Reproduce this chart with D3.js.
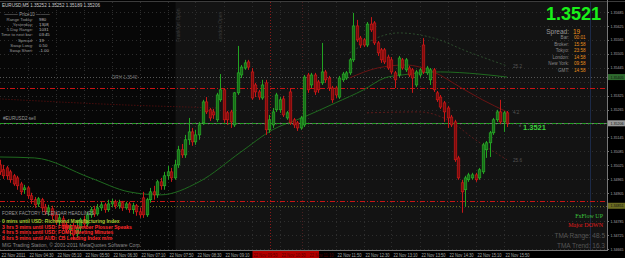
<!DOCTYPE html>
<html>
<head>
<meta charset="utf-8">
<script src="https://cdn.jsdelivr.net/npm/d3@7"></script>
<style>
  html, body { margin: 0; padding: 0; background: #000; }
  svg { display: block; font-family: "Liberation Sans", Arial, sans-serif; }
</style>
</head>
<body>
<svg id="chart" width="625" height="258"></svg>
<script>
// EURUSD M5, 22 Nov 2011, 03:50 .. 15:55 (146 bars)
const opens = [
  1.35027,1.35006,1.35014,1.34997,1.34980,1.34971,1.34945,1.34920,1.34928,1.34894,
  1.34877,1.34859,1.34877,1.34846,1.34825,1.34838,1.34812,1.34782,1.34795,1.34769,
  1.34748,1.34765,1.34730,1.34756,1.34791,1.34773,1.34812,1.34834,1.34816,1.34842,
  1.34855,1.34834,1.34859,1.34868,1.34851,1.34864,1.34842,1.34859,1.34834,1.34851,
  1.34825,1.34885,1.34812,1.34877,1.34911,1.34898,1.34954,1.34937,1.34980,1.34997,
  1.34971,1.35027,1.35092,1.35070,1.35135,1.35169,1.35126,1.35156,1.35208,1.35298,
  1.35264,1.35255,1.35221,1.35307,1.35350,1.35251,1.35255,1.35199,1.35337,1.35414,
  1.35444,1.35470,1.35427,1.35371,1.35341,1.35315,1.35380,1.35178,1.35199,1.35264,
  1.35264,1.35311,1.35229,1.35341,1.35221,1.35208,1.35186,1.35199,1.35414,1.35371,
  1.35414,1.35384,1.35380,1.35427,1.35401,1.35358,1.35358,1.35319,1.35393,1.35401,
  1.35423,1.35479,1.35625,1.35573,1.35565,1.35543,1.35633,1.35638,1.35552,1.35522,
  1.35522,1.35491,1.35479,1.35423,1.35414,1.35479,1.35436,1.35444,1.35436,1.35371,
  1.35414,1.35543,1.35423,1.35393,1.35436,1.35337,1.35319,1.35294,1.35272,1.35233,
  1.35212,1.35057,1.34950,1.34920,1.34963,1.34971,1.34984,1.34971,1.34997,1.35092,
  1.35122,1.35165,1.35221,1.35255,1.35212,1.35251
];
const highs = [
  1.35049,1.35027,1.35023,1.35006,1.34988,1.34980,1.34954,1.34941,1.34937,1.34907,
  1.34889,1.34889,1.34885,1.34859,1.34855,1.34851,1.34825,1.34816,1.34808,1.34782,
  1.34773,1.34778,1.34791,1.34799,1.34808,1.34825,1.34846,1.34851,1.34859,1.34868,
  1.34864,1.34877,1.34881,1.34877,1.34877,1.34872,1.34868,1.34868,1.34864,1.34859,
  1.34842,1.34911,1.34885,1.34928,1.34937,1.34963,1.34971,1.34997,1.35023,1.35014,
  1.35049,1.35109,1.35117,1.35156,1.35229,1.35186,1.35178,1.35212,1.35307,1.35319,
  1.35272,1.35268,1.35337,1.35418,1.35358,1.35259,1.35264,1.35341,1.35539,1.35457,
  1.35479,1.35479,1.35444,1.35380,1.35350,1.35393,1.35393,1.35242,1.35272,1.35337,
  1.35319,1.35324,1.35259,1.35358,1.35229,1.35216,1.35238,1.35414,1.35423,1.35423,
  1.35423,1.35393,1.35552,1.35436,1.35410,1.35367,1.35367,1.35410,1.35427,1.35431,
  1.35487,1.35681,1.35651,1.35582,1.35573,1.35642,1.35663,1.35646,1.35560,1.35530,
  1.35530,1.35500,1.35491,1.35431,1.35496,1.35487,1.35487,1.35453,1.35444,1.35436,
  1.35444,1.35573,1.35453,1.35444,1.35444,1.35345,1.35328,1.35302,1.35281,1.35242,
  1.35221,1.35066,1.34963,1.34980,1.34993,1.34993,1.34993,1.35014,1.35122,1.35130,
  1.35173,1.35229,1.35264,1.35307,1.35259,1.35259
];
const lows = [
  1.34984,1.34967,1.34963,1.34950,1.34937,1.34920,1.34898,1.34902,1.34881,1.34859,
  1.34842,1.34846,1.34825,1.34812,1.34808,1.34791,1.34769,1.34765,1.34748,1.34735,
  1.34722,1.34705,1.34713,1.34739,1.34756,1.34760,1.34799,1.34803,1.34808,1.34829,
  1.34821,1.34825,1.34846,1.34838,1.34838,1.34829,1.34834,1.34821,1.34816,1.34808,
  1.34799,1.34799,1.34803,1.34864,1.34877,1.34885,1.34920,1.34920,1.34963,1.34954,
  1.34963,1.35014,1.35057,1.35057,1.35113,1.35109,1.35113,1.35135,1.35199,1.35246,
  1.35216,1.35225,1.35212,1.35298,1.35208,1.35199,1.35186,1.35190,1.35328,1.35401,
  1.35436,1.35436,1.35307,1.35319,1.35307,1.35307,1.35156,1.35165,1.35186,1.35255,
  1.35251,1.35233,1.35221,1.35199,1.35186,1.35173,1.35178,1.35190,1.35337,1.35358,
  1.35328,1.35337,1.35371,1.35380,1.35345,1.35294,1.35315,1.35311,1.35384,1.35393,
  1.35414,1.35470,1.35556,1.35530,1.35534,1.35534,1.35599,1.35543,1.35496,1.35466,
  1.35461,1.35436,1.35418,1.35358,1.35405,1.35436,1.35427,1.35405,1.35337,1.35362,
  1.35405,1.35418,1.35414,1.35371,1.35341,1.35298,1.35268,1.35212,1.35186,1.35190,
  1.35040,1.34963,1.34821,1.34846,1.34954,1.34963,1.34954,1.34963,1.34988,1.35057,
  1.35061,1.35156,1.35212,1.35203,1.35169,1.35190
];
const closes = [
  1.34997,1.34980,1.34980,1.34963,1.34945,1.34937,1.34911,1.34928,1.34894,1.34877,
  1.34855,1.34881,1.34842,1.34825,1.34842,1.34808,1.34782,1.34799,1.34765,1.34748,
  1.34765,1.34726,1.34756,1.34791,1.34773,1.34812,1.34834,1.34816,1.34842,1.34855,
  1.34834,1.34859,1.34868,1.34851,1.34864,1.34842,1.34859,1.34834,1.34851,1.34825,
  1.34812,1.34812,1.34877,1.34911,1.34898,1.34954,1.34937,1.34980,1.34997,1.34971,
  1.35027,1.35092,1.35070,1.35135,1.35169,1.35126,1.35156,1.35199,1.35298,1.35255,
  1.35229,1.35242,1.35328,1.35350,1.35221,1.35221,1.35212,1.35337,1.35423,1.35448,
  1.35466,1.35448,1.35315,1.35341,1.35319,1.35371,1.35178,1.35221,1.35255,1.35328,
  1.35307,1.35242,1.35251,1.35208,1.35199,1.35186,1.35229,1.35405,1.35350,1.35414,
  1.35341,1.35350,1.35427,1.35393,1.35358,1.35307,1.35328,1.35401,1.35418,1.35423,
  1.35479,1.35625,1.35565,1.35543,1.35543,1.35633,1.35608,1.35552,1.35509,1.35479,
  1.35470,1.35444,1.35427,1.35393,1.35487,1.35444,1.35479,1.35414,1.35401,1.35427,
  1.35436,1.35427,1.35444,1.35436,1.35350,1.35307,1.35276,1.35255,1.35229,1.35199,
  1.35049,1.34971,1.34911,1.34971,1.34984,1.34984,1.34963,1.35006,1.35113,1.35122,
  1.35165,1.35221,1.35255,1.35212,1.35251,1.35206
];

// price axis ticks and time axis labels (one label every 8 bars)
const priceTicks = [1.35685,1.35625,1.35565,1.35505,1.35445,1.35385,1.35325,1.35265,1.35205,
  1.35145,1.35085,1.35025,1.34965,1.34905,1.34845,1.34785,1.34725,1.34665];
const timeLabels = ["22 Nov 2011","22 Nov 04:30","22 Nov 05:10","22 Nov 05:50","22 Nov 06:30",
  "22 Nov 07:10","22 Nov 07:50","22 Nov 08:30","22 Nov 09:10","22 Nov 09:50","22 Nov 10:30",
  "22 Nov 11:10","22 Nov 11:50","22 Nov 12:30","22 Nov 13:10","22 Nov 13:50","22 Nov 14:30",
  "22 Nov 15:10","22 Nov 15:50"];
const labelEvery = 8;

// indicator lines, sparse points [bar, price]
const slowMa = [[0,1.35061],[10,1.35057],[26,1.34971],[37,1.34911],[46,1.34898],[57,1.34954],
  [69,1.35083],[78,1.35178],[87,1.35233],[96,1.35294],[104,1.35350],[110,1.35401],[115,1.35414],
  [126,1.35427],[137,1.35418],[145,1.35405]];
const tmaMid = [[100,1.35401],[108,1.35444],[116,1.35457],[124,1.35427],[132,1.35358],[138,1.35307],[145,1.35255]];
const tmaUpper = [[100,1.35509],[114,1.35595],[124,1.35573],[134,1.35513],[145,1.35453]];
const tmaLower = [[105,1.35251],[120,1.35255],[128,1.35221],[136,1.35135],[145,1.35049]];
const pivotDots = [[0,1.35311],[43,1.35281],[54,1.35276],[62,1.35272]];
const tmaLabels = ["25.2", "4.2", "25.6"];

// horizontal levels
const bid = 1.35206;
const stopLevels = [1.35358, 1.34872];
const oliveLevel = 1.34851;
const drhLevel = 1.35405;

// session / event markers (bar positions)
const frankfurtBar = 50, londonBar = 62;
const eventBars = [77.3, 86.4];
const futureBar = 168.7;
const newsBoxBars = [72, 91];

const headerText = "EURUSD,M5  1.35252 1.35252 1.35189 1.35206";
const infoLabels = ["Range Today:","Yesterday:","5 Day Range:","Time to next bar:","Spread:","Swap Long:","Swap Short:"];
const infoValues = ["980","1308","1031","03:45","19","0.50","-1.00"];
const clockLabels = ["Bar:","Broker:","Tokyo:","London:","New York:","GMT:"];
const clockValues = ["00:01","15:58","23:58","14:58","09:58","14:58"];
const newsLines = [
  ["0 mins until USD: Richmond Manufacturing Index", "#a8c832"],
  ["3 hrs 5 mins until USD: FOMC Member Plosser Speaks", "#ff2a2a"],
  ["4 hrs 5 mins until USD: FOMC Meeting Minutes", "#ff2a2a"],
  ["8 hrs 5 mins until AUD: CB Leading Index m/m", "#ff2a2a"]
];

const svg = d3.select("#chart");
const W = 625, H = 258;
const plotRight = 607, plotBottom = 250, plotTop = 2;
const small = 4.6;

const x = d3.scaleLinear().domain([0, 145]).range([-0.5, 507]);
const y = d3.scaleLinear().domain([1.34665, 1.35685]).range([249, 12]);
const px = v => Math.round(v) + 0.5;

// background
svg.append("rect").attr("width", W).attr("height", H).attr("fill", "#000");
svg.append("rect").attr("x", 0).attr("y", plotTop).attr("width", plotRight).attr("height", plotBottom - plotTop).attr("fill", "#070707");
svg.append("rect").attr("x", x(frankfurtBar) + 1).attr("y", plotTop)
  .attr("width", plotRight - x(frankfurtBar) - 1).attr("height", plotBottom - plotTop).attr("fill", "#131313");
svg.append("line").attr("x1", 0).attr("x2", W).attr("y1", 1.5).attr("y2", 1.5).attr("stroke", "#3c3c3c");

// dotted grid
const grid = svg.append("g").attr("stroke", "#2e2e2e").attr("stroke-dasharray", "1 3");
grid.selectAll(".gh").data(priceTicks).join("line")
  .attr("x1", 0).attr("x2", plotRight).attr("y1", d => px(y(d))).attr("y2", d => px(y(d)));
grid.selectAll(".gv").data(timeLabels.slice(1)).join("line")
  .attr("x1", (d, i) => px(x((i + 1) * labelEvery))).attr("x2", (d, i) => px(x((i + 1) * labelEvery)))
  .attr("y1", plotTop).attr("y2", plotBottom);

// session labels
[[frankfurtBar, "Frankfurt Open"], [londonBar, "London Open"]].forEach(([b, t]) => {
  svg.append("text").attr("transform", `translate(${x(b) + 5},42) rotate(-90)`)
    .attr("font-size", 5).attr("fill", "#3a3a3a").text(t);
});

// event verticals
svg.selectAll(".ev").data(eventBars).join("line")
  .attr("x1", d => px(x(d))).attr("x2", d => px(x(d)))
  .attr("y1", plotTop).attr("y2", plotBottom)
  .attr("stroke", (d, i) => i ? "#4a2020" : "#8a1a1a").attr("stroke-dasharray", "1 2");
svg.append("line").attr("x1", px(x(futureBar))).attr("x2", px(x(futureBar)))
  .attr("y1", plotTop).attr("y2", plotBottom).attr("stroke", "#1c2a48");

// horizontal levels
svg.append("line").attr("x1", 0).attr("x2", plotRight).attr("y1", px(y(drhLevel))).attr("y2", px(y(drhLevel)))
  .attr("stroke", "#555").attr("stroke-dasharray", "1 2");
svg.append("text").attr("x", 112).attr("y", y(drhLevel) + 1.5).attr("font-size", small).attr("fill", "#777").text("DRH  1.3540");
svg.selectAll(".stop").data(stopLevels).join("line")
  .attr("x1", 0).attr("x2", plotRight).attr("y1", d => px(y(d))).attr("y2", d => px(y(d)))
  .attr("stroke", "#c81414").attr("stroke-dasharray", "5 2 1 2");
svg.append("line").attr("x1", 0).attr("x2", plotRight).attr("y1", px(y(oliveLevel))).attr("y2", px(y(oliveLevel)))
  .attr("stroke", "#6a6a20").attr("stroke-dasharray", "1 2");

// indicator lines
const line = d3.line().x(d => x(d[0])).y(d => y(d[1])).curve(d3.curveMonotoneX);
svg.append("path").attr("d", line(pivotDots)).attr("fill", "none").attr("stroke", "#6a1010").attr("stroke-dasharray", "1 2");
svg.append("path").attr("d", line(slowMa)).attr("fill", "none").attr("stroke", "#1f6a1f").attr("stroke-width", 1);
svg.append("path").attr("d", line(tmaMid)).attr("fill", "none").attr("stroke", "#6a1414").attr("stroke-width", 1);
svg.append("path").attr("d", line(tmaUpper)).attr("fill", "none").attr("stroke", "#2c4a2c").attr("stroke-dasharray", "2 2");
svg.append("path").attr("d", line(tmaLower)).attr("fill", "none").attr("stroke", "#5a1a1a").attr("stroke-dasharray", "2 2");
[tmaUpper, tmaMid, tmaLower].forEach((s, i) => {
  const last = s[s.length - 1];
  svg.append("text").attr("x", x(last[0]) + 6).attr("y", y(last[1]) + 2)
    .attr("font-size", small).attr("fill", "#555").text(tmaLabels[i]);
});

// bid / order line
svg.append("line").attr("x1", 0).attr("x2", plotRight).attr("y1", px(y(bid))).attr("y2", px(y(bid))).attr("stroke", "#777");
svg.append("line").attr("x1", 0).attr("x2", plotRight).attr("y1", px(y(bid))).attr("y2", px(y(bid)))
  .attr("stroke", "#22a022").attr("stroke-dasharray", "4 2");
svg.append("text").attr("x", 3).attr("y", y(bid) - 3).attr("font-size", small).attr("fill", "#999").text("#EURUSD2 sell");

// candles
const bars = d3.range(opens.length);
const up = i => closes[i] >= opens[i];
const cg = svg.append("g");
cg.selectAll(".wick").data(bars).join("line")
  .attr("x1", i => px(x(i))).attr("x2", i => px(x(i)))
  .attr("y1", i => y(highs[i])).attr("y2", i => y(lows[i]))
  .attr("stroke", i => up(i) ? "#22a322" : "#c81818");
cg.selectAll(".body").data(bars).join("rect")
  .attr("x", i => Math.round(x(i)) - 0.8).attr("width", 2.6)
  .attr("y", i => y(Math.max(opens[i], closes[i])))
  .attr("height", i => Math.max(1, Math.abs(y(opens[i]) - y(closes[i]))))
  .attr("fill", i => up(i) ? "#176d17" : "#7d0c0c")
  .attr("stroke", i => up(i) ? "#2cb52c" : "#d41a1a").attr("stroke-width", 0.6);

// current price text near last bar
svg.append("text").attr("x", x(145) + 16).attr("y", y(bid) + 7).attr("font-size", 7.5).attr("font-weight", "bold")
  .attr("fill", "#3ccf3c").text("1.3521");
svg.append("text").attr("x", x(145) + 12).attr("y", y(bid) + 6).attr("font-size", 5).attr("fill", "#777").text("*");

// right price axis
svg.append("line").attr("x1", plotRight + 0.5).attr("x2", plotRight + 0.5).attr("y1", 0).attr("y2", plotBottom + 1).attr("stroke", "#777");
const hiLabels = [[drhLevel, "#2e6a2e"], [bid, "#9a9a9a"], [oliveLevel, "#6c6c22"]];
const ax = svg.append("g").attr("font-size", 4.3).attr("fill", "#aaa");
priceTicks.filter(p => hiLabels.every(h => Math.abs(y(h[0]) - y(p)) > 6)).forEach(p => {
  ax.append("line").attr("x1", plotRight).attr("x2", plotRight + 2).attr("y1", px(y(p))).attr("y2", px(y(p))).attr("stroke", "#777");
  ax.append("text").attr("x", plotRight + 3.5).attr("y", y(p) + 1.6).attr("textLength", 13).attr("lengthAdjust", "spacingAndGlyphs").text(p.toFixed(5));
});
hiLabels.forEach(([p, c]) => {
  ax.append("rect").attr("x", plotRight + 1).attr("y", y(p) - 3).attr("width", W - plotRight - 1).attr("height", 6).attr("fill", c);
  ax.append("text").attr("x", plotRight + 3.5).attr("y", y(p) + 1.6).attr("fill", "#111")
    .attr("textLength", 13).attr("lengthAdjust", "spacingAndGlyphs").text(p.toFixed(5));
});

// bottom time axis
svg.append("line").attr("x1", 0).attr("x2", plotRight).attr("y1", plotBottom + 0.5).attr("y2", plotBottom + 0.5).attr("stroke", "#777");
svg.append("rect").attr("x", x(newsBoxBars[0]) + 1).attr("y", 251).attr("width", x(newsBoxBars[1]) - x(newsBoxBars[0]))
  .attr("height", 7).attr("fill", "#b40000");
const tx = svg.append("g").attr("font-size", small);
timeLabels.forEach((t, i) => {
  const b = i * labelEvery;
  const inBox = b >= newsBoxBars[0] && b < newsBoxBars[1];
  tx.append("text").attr("x", x(b) + 2).attr("y", 256.5)
    .attr("fill", inBox ? "#5a0000" : "#aaa")
    .attr("textLength", 24).attr("lengthAdjust", "spacingAndGlyphs").text(t);
});

// header + info panel
svg.append("text").attr("x", 2).attr("y", 6.5).attr("font-size", small).attr("fill", "#ccc")
  .attr("textLength", 98).attr("lengthAdjust", "spacingAndGlyphs").text(headerText);
svg.append("text").attr("x", 27).attr("y", 15.5).attr("text-anchor", "middle").attr("font-size", small).attr("fill", "#999").text("——— Price10 ———");
infoLabels.forEach((t, i) => {
  svg.append("text").attr("x", 33).attr("y", 20.5 + i * 5.3).attr("text-anchor", "end").attr("font-size", 4.3).attr("fill", "#999").text(t);
  svg.append("text").attr("x", 39).attr("y", 20.5 + i * 5.3).attr("font-size", 4.3).attr("fill", "#bbb").text(infoValues[i]);
});

// top right price and clocks
svg.append("text").attr("x", 601).attr("y", 20).attr("text-anchor", "end").attr("font-size", 18).attr("font-weight", "bold")
  .attr("fill", "#19f019").text("1.3521");
svg.append("text").attr("x", 569).attr("y", 34).attr("text-anchor", "end").attr("font-size", 6.5).attr("fill", "#999").text("Spread:");
svg.append("text").attr("x", 573).attr("y", 34).attr("font-size", 6.5).attr("fill", "#e8901c").text("19");
clockLabels.forEach((t, i) => {
  svg.append("text").attr("x", 569).attr("y", 39 + i * 6.6).attr("text-anchor", "end").attr("font-size", small).attr("fill", "#888").text(t);
  svg.append("text").attr("x", 574).attr("y", 39 + i * 6.6).attr("font-size", small).attr("fill", "#e8901c").text(clockValues[i]);
});

// news headlines
svg.append("text").attr("x", 2).attr("y", 214.5).attr("font-size", small).attr("fill", "#999").text("FOREX FACTORY CALENDAR HEADLINES:");
newsLines.forEach(([t, c], i) => {
  svg.append("text").attr("x", 2).attr("y", 223 + i * 5.6).attr("font-size", 5).attr("font-weight", "bold").attr("fill", c).text(t);
});
svg.append("text").attr("x", 2).attr("y", 246.5).attr("font-size", 5).attr("fill", "#888")
  .text("MIG Trading Station, © 2001-2011 MetaQuotes Software Corp.");

// trend panel bottom right
svg.append("text").attr("x", 603).attr("y", 218).attr("text-anchor", "end").attr("font-family", "Liberation Serif, serif")
  .attr("font-size", 6).attr("fill", "#3dc23d").text("FxFlow UP");
svg.append("text").attr("x", 603).attr("y", 227).attr("text-anchor", "end").attr("font-family", "Liberation Serif, serif")
  .attr("font-size", 6).attr("fill", "#e01c1c").text("Major DOWN");
svg.append("text").attr("x", 605).attr("y", 238).attr("text-anchor", "end").attr("font-size", 6.5).attr("fill", "#555").text("TMA Range: 48.5");
svg.append("text").attr("x", 605).attr("y", 248).attr("text-anchor", "end").attr("font-size", 6.5).attr("fill", "#555").text("TMA Trend: 16.3");
</script>
</body>
</html>
